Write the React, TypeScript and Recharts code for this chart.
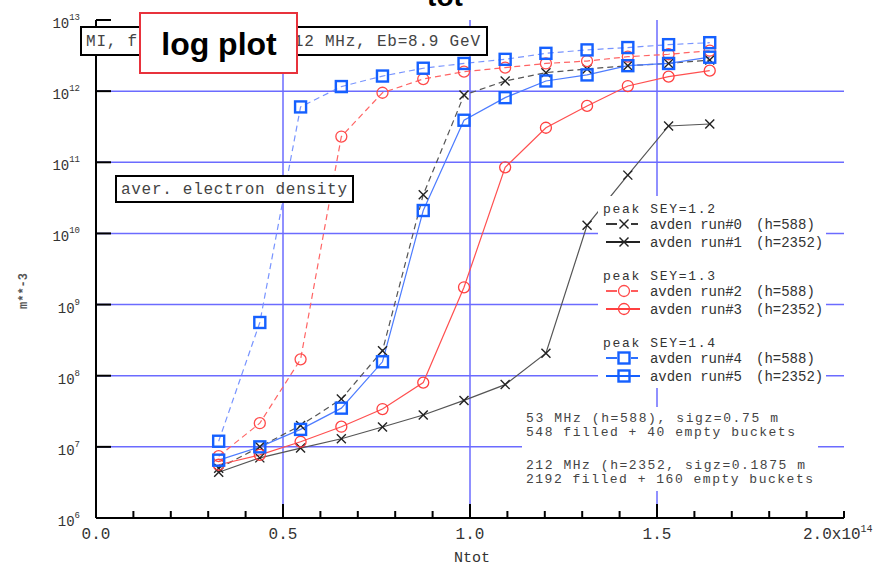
import { LineChart, Line, XAxis, YAxis, CartesianGrid, Legend } from "recharts";

// ─── Data (Ntot in units of 1e14, density in m^-3) ───────────────────────────

const NTOT = [0.328, 0.438, 0.547, 0.656, 0.766, 0.875, 0.984, 1.094, 1.203, 1.313, 1.422, 1.531, 1.641];

const RUN0 = [5.0e6, 1.0e7, 2.0e7, 4.7e7, 2.25e8, 3.5e10, 8.8e11, 1.39e12, 1.82e12, 2.05e12, 2.28e12, 2.45e12, 2.74e12];
const RUN1 = [4.4e6, 7.0e6, 9.6e6, 1.3e7, 1.9e7, 2.8e7, 4.5e7, 7.5e7, 2.07e8, 1.3e10, 6.6e10, 3.24e11, 3.45e11];
const RUN2 = [7.4e6, 2.15e7, 1.7e8, 2.3e11, 9.5e11, 1.48e12, 1.88e12, 2.14e12, 2.45e12, 2.65e12, 3.05e12, 3.3e12, 3.7e12];
const RUN3 = [5.6e6, 7.7e6, 1.18e7, 1.92e7, 3.4e7, 8.0e7, 1.75e9, 8.5e10, 3.06e11, 6.2e11, 1.18e12, 1.6e12, 1.94e12];
const RUN4 = [1.2e7, 5.6e8, 6.0e11, 1.16e12, 1.63e12, 2.1e12, 2.45e12, 2.8e12, 3.4e12, 3.8e12, 4.1e12, 4.5e12, 4.8e12];
const RUN5 = [6.5e6, 1.0e7, 1.76e7, 3.5e7, 1.57e8, 2.1e10, 3.9e11, 8.1e11, 1.39e12, 1.69e12, 2.28e12, 2.45e12, 3.0e12];

const X_TICKS = [0, 0.1, 0.2, 0.3, 0.4, 0.5, 0.6, 0.7, 0.8, 0.9, 1.0, 1.1, 1.2, 1.3, 1.4, 1.5, 1.6, 1.7, 1.8, 1.9, 2.0];
const X_MAJOR = [0.5, 1.0, 1.5];
const X_LABELS: Record<string, string> = { "0": "0.0", "0.5": "0.5", "1": "1.0", "1.5": "1.5" };
const Y_TICKS = [1e6, 1e7, 1e8, 1e9, 1e10, 1e11, 1e12, 1e13];
const Y_GRID = [1e7, 1e8, 1e9, 1e10, 1e11, 1e12];

const GROUPS = ["peak SEY=1.2", "peak SEY=1.3", "peak SEY=1.4"];

type Marker = "x" | "circle" | "square";

const SERIES: {
  key: string;
  name: string;
  h: string;
  group: number;
  values: number[];
  stroke: string;
  mark: string;
  marker: Marker;
  dashed: boolean;
}[] = [
  { key: "run0", name: "avden run#0", h: "(h=588)", group: 0, values: RUN0, stroke: "#555", mark: "#222", marker: "x", dashed: true },
  { key: "run1", name: "avden run#1", h: "(h=2352)", group: 0, values: RUN1, stroke: "#555", mark: "#222", marker: "x", dashed: false },
  { key: "run2", name: "avden run#2", h: "(h=588)", group: 1, values: RUN2, stroke: "#ff6464", mark: "#ff4a4a", marker: "circle", dashed: true },
  { key: "run3", name: "avden run#3", h: "(h=2352)", group: 1, values: RUN3, stroke: "#ff5050", mark: "#ff4040", marker: "circle", dashed: false },
  { key: "run4", name: "avden run#4", h: "(h=588)", group: 2, values: RUN4, stroke: "#7894ff", mark: "#1560ff", marker: "square", dashed: true },
  { key: "run5", name: "avden run#5", h: "(h=2352)", group: 2, values: RUN5, stroke: "#4d7cff", mark: "#1560ff", marker: "square", dashed: false },
];

const data = NTOT.map((n, i) => {
  const row: Record<string, number> = { ntot: n };
  SERIES.forEach((s) => (row[s.key] = s.values[i]));
  return row;
});

const MONO = "'Liberation Mono', 'DejaVu Sans Mono', monospace";
const SANS = "'Liberation Sans', Arial, sans-serif";
const GRID_BLUE = "#6b6bff";

// ─── Markers ────────────────────────────────────────────────────────────────

function markerShape(kind: Marker, color: string, cx: number, cy: number, key?: string) {
  if (kind === "x") {
    return (
      <g key={key}>
        <line x1={cx - 4.5} y1={cy - 4.5} x2={cx + 4.5} y2={cy + 4.5} stroke={color} strokeWidth={1.4} />
        <line x1={cx - 4.5} y1={cy + 4.5} x2={cx + 4.5} y2={cy - 4.5} stroke={color} strokeWidth={1.4} />
      </g>
    );
  }
  if (kind === "circle") {
    return <circle key={key} cx={cx} cy={cy} r={5.5} fill="none" stroke={color} strokeWidth={1.3} />;
  }
  return <rect key={key} x={cx - 5.5} y={cy - 5.5} width={11} height={11} fill="none" stroke={color} strokeWidth={2.4} />;
}

// ─── Axis ticks (drawn inward) ──────────────────────────────────────────────

function BottomTick({ x, y, payload }: any) {
  const v = payload.value;
  const major = X_MAJOR.some((m) => Math.abs(m - v) < 1e-6);
  const label = X_LABELS[String(v)];
  const last = Math.abs(v - 2) < 1e-6;
  return (
    <g>
      <line x1={x} y1={y} x2={x} y2={y - (major ? 14 : 7)} stroke="#000" strokeWidth={2} />
      {label && (
        <text x={x} y={y + 21} textAnchor="middle" fontFamily={MONO} fontSize={16} fill="#333">
          {label}
        </text>
      )}
      {last && (
        <text x={x - 41} y={y + 21} textAnchor="start" fontFamily={MONO} fontSize={16} fill="#333">
          2.0x10
          <tspan dy={-7} fontSize={10}>14</tspan>
        </text>
      )}
    </g>
  );
}

function TopTick({ x, y, payload }: any) {
  const major = X_MAJOR.some((m) => Math.abs(m - payload.value) < 1e-6);
  return <line x1={x} y1={y - 2} x2={x} y2={y + (major ? 11 : 7)} stroke="#000" strokeWidth={2} />;
}

function LeftTick({ x, y, payload }: any) {
  const exp = Math.round(Math.log10(payload.value));
  return (
    <g>
      <line x1={x} y1={y} x2={x + 15} y2={y} stroke="#000" strokeWidth={2} />
      <text x={x - 16} y={y + 8} textAnchor="end" fontFamily={MONO} fontSize={14} fill="#333">
        10
        <tspan dy={-8} fontSize={9}>{exp}</tspan>
      </text>
    </g>
  );
}

function RightTick({ x, y }: any) {
  return <line x1={x} y1={y} x2={x - 15} y2={y} stroke="#000" strokeWidth={2} />;
}

// ─── Legend block ───────────────────────────────────────────────────────────

function LegendBlock() {
  return (
    <svg width={228} height={192} style={{ display: "block" }}>
      <rect width={228} height={192} fill="#fff" />
      {GROUPS.map((g, gi) => {
        const top = 12 + gi * 67;
        return (
          <g key={g}>
            <text x={5} y={top + 5} fontFamily={MONO} fontSize={13} fill="#333" textLength={112}>
              {g}
            </text>
            {SERIES.filter((s) => s.group === gi).map((s, ri) => {
              const cy = top + 16 + ri * 18;
              return (
                <g key={s.key}>
                  {s.dashed ? (
                    <>
                      <line x1={8} y1={cy} x2={19} y2={cy} stroke={s.mark} strokeWidth={1.8} />
                      <line x1={33} y1={cy} x2={40} y2={cy} stroke={s.mark} strokeWidth={1.8} />
                    </>
                  ) : (
                    <line x1={8} y1={cy} x2={42} y2={cy} stroke={s.mark} strokeWidth={1.8} />
                  )}
                  {markerShape(s.marker, s.mark, 26, cy)}
                  <text x={52} y={cy + 4.5} fontFamily={MONO} fontSize={14} fill="#333" textLength={92}>
                    {s.name}
                  </text>
                  <text x={158} y={cy + 4.5} fontFamily={MONO} fontSize={14} fill="#333">
                    {s.h}
                  </text>
                </g>
              );
            })}
          </g>
        );
      })}
    </svg>
  );
}

// ─── Chart ──────────────────────────────────────────────────────────────────

export default function App() {
  return (
    <div style={{ position: "absolute", left: 0, top: 0, width: 884, height: 566, background: "#fff", overflow: "hidden" }}>
      <LineChart width={884} height={566} data={data} margin={{ top: 20, right: 40, bottom: 0, left: 0 }}>
        <CartesianGrid
          horizontalValues={Y_GRID}
          verticalValues={X_MAJOR}
          stroke={GRID_BLUE}
          strokeWidth={1.5}
        />
        <XAxis
          dataKey="ntot"
          type="number"
          domain={[0, 2]}
          ticks={X_TICKS}
          interval={0}
          height={48}
          tickSize={0}
          tickMargin={0}
          tickLine={false}
          axisLine={{ stroke: "#000", strokeWidth: 2 }}
          tick={<BottomTick />}
        />
        <XAxis
          xAxisId="top"
          orientation="top"
          dataKey="ntot"
          type="number"
          domain={[0, 2]}
          ticks={X_TICKS}
          interval={0}
          height={0}
          tickSize={0}
          tickMargin={0}
          tickLine={false}
          axisLine={{ stroke: "#000", strokeWidth: 2 }}
          tick={<TopTick />}
        />
        <YAxis
          type="number"
          scale="log"
          domain={[1e6, 1e13]}
          allowDataOverflow
          ticks={Y_TICKS}
          interval={0}
          width={96}
          tickSize={0}
          tickMargin={0}
          tickLine={false}
          axisLine={{ stroke: "#000", strokeWidth: 2 }}
          tick={<LeftTick />}
        />
        <YAxis
          yAxisId="right"
          orientation="right"
          type="number"
          scale="log"
          domain={[1e6, 1e13]}
          allowDataOverflow
          ticks={Y_TICKS}
          interval={0}
          width={0}
          tickSize={0}
          tickMargin={0}
          tickLine={false}
          axisLine={{ stroke: "#000", strokeWidth: 2 }}
          tick={<RightTick />}
        />
        {SERIES.map((s) => (
          <Line
            key={s.key}
            dataKey={s.key}
            type="linear"
            stroke={s.stroke}
            strokeWidth={1.2}
            strokeDasharray={s.dashed ? "6 4" : undefined}
            dot={(p: any) => markerShape(s.marker, s.mark, p.cx, p.cy, `${s.key}-${p.index}`)}
            activeDot={false}
            isAnimationActive={false}
          />
        ))}
        <Legend
          layout="horizontal"
          verticalAlign="middle"
          align="center"
          content={() => <LegendBlock />}
          wrapperStyle={{ position: "absolute", left: 598, top: 196, width: 228, height: 192 }}
        />
      </LineChart>

      {/* annotations drawn on top of the plot */}
      <svg width={884} height={566} style={{ position: "absolute", left: 0, top: 0, pointerEvents: "none" }}>
        <text x={445} y={6} textAnchor="middle" fontFamily={SANS} fontWeight="bold" fontSize={28} fill="#000">
          tot
        </text>

        <rect x={81} y={27} width={406} height={28} fill="#fff" stroke="#000" strokeWidth={2} />
        <text x={86} y={46} fontFamily={MONO} fontSize={16} fill="#444" textLength={394}>
          MI, frf=53 MHz and 212 MHz, Eb=8.9 GeV
        </text>

        <rect x={140} y={13} width={157} height={60} fill="#fff" stroke="#e8323c" strokeWidth={2} />
        <text x={219} y={55} textAnchor="middle" fontFamily={SANS} fontWeight="bold" fontSize={32} fill="#000">
          log plot
        </text>

        <rect x={116} y={176} width={237} height={26} fill="#fff" stroke="#000" strokeWidth={2} />
        <text x={121} y={194} fontFamily={MONO} fontSize={16} fill="#444" textLength={226}>
          aver. electron density
        </text>

        <rect x={522} y={407} width={296} height={84} fill="#fff" />
        <g fontFamily={MONO} fontSize={13} fill="#444">
          <text x={526} y={422} textLength={252}>53 MHz (h=588), sigz=0.75 m</text>
          <text x={526} y={436} textLength={269}>548 filled + 40 empty buckets</text>
          <text x={526} y={469} textLength={279}>212 MHz (h=2352, sigz=0.1875 m</text>
          <text x={526} y={483} textLength={287}>2192 filled + 160 empty buckets</text>
        </g>

        <text x={472} y={562} textAnchor="middle" fontFamily={MONO} fontSize={15} fill="#333">
          Ntot
        </text>
        <text
          x={27}
          y={291}
          textAnchor="middle"
          fontFamily={MONO}
          fontSize={12}
          fontWeight="bold"
          fill="#555"
          transform="rotate(-90 27 291)"
        >
          m**-3
        </text>
      </svg>
    </div>
  );
}
